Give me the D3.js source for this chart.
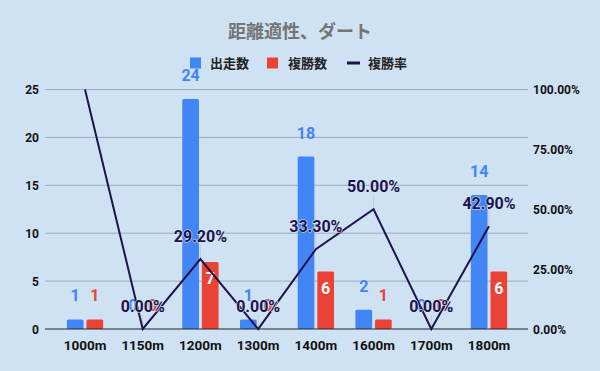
<!DOCTYPE html>
<html>
<head>
<meta charset="utf-8">
<script src="https://cdn.jsdelivr.net/npm/d3@7"></script>
<style>
  body { margin: 0; background: #cfe2f3; }
  svg { display: block; }
  text { font-family: Roboto, "Liberation Sans", "Noto Sans CJK JP", sans-serif; }
  .jp { font-family: "Noto Sans CJK JP", sans-serif; }
</style>
</head>
<body>
<svg id="svg1" width="600" height="371"></svg>
<script>
// data
var distances = ['1000m', '1150m', '1200m', '1300m', '1400m', '1600m', '1700m', '1800m'];
var runs = [1, 0, 24, 1, 18, 2, 0, 14];        // 出走数
var places = [1, 0, 7, 0, 6, 1, 0, 6];         // 複勝数
var placeRate = [1.0, 0, 0.292, 0, 0.333, 0.5, 0, 0.429];  // 複勝率
var leftTicks = [0, 5, 10, 15, 20, 25];
var rightTicks = [0, 0.25, 0.5, 0.75, 1];

var blue = '#4285f4', red = '#ea4335', navy = '#20124d';

var svg = d3.select('#svg1');

var plotLeft = 45, plotRight = 528, plotTop = 89.5, plotBottom = 329;

var x = d3.scaleBand().domain(distances).range([56.15, 517.85]).padding(0);
var bw = x.bandwidth();
var x1 = d3.scaleBand().domain(['runs', 'places'])
    .range([(bw - 36.3) / 2, (bw + 36.3) / 2]).paddingInner(0.15);

var y = d3.scaleLinear().domain([0, 25]).range([plotBottom, plotTop]);
var yR = d3.scaleLinear().domain([0, 1]).range([plotBottom, plotTop]);

// title
svg.append('text')
    .attr('class', 'jp')
    .attr('x', 300).attr('y', 38)
    .attr('text-anchor', 'middle')
    .attr('font-size', 18).attr('font-weight', 'bold')
    .attr('fill', '#757575')
    .text('距離適性、ダート');

// legend
var legend = svg.append('g');
legend.append('rect').attr('x', 190).attr('y', 57.5).attr('width', 11).attr('height', 11).attr('fill', blue);
legend.append('text').attr('class', 'jp').attr('x', 210).attr('y', 68).attr('font-size', 13).attr('font-weight', 'bold').attr('fill', '#222').text('出走数');
legend.append('rect').attr('x', 267).attr('y', 57.5).attr('width', 11).attr('height', 11).attr('fill', red);
legend.append('text').attr('class', 'jp').attr('x', 288).attr('y', 68).attr('font-size', 13).attr('font-weight', 'bold').attr('fill', '#222').text('複勝数');
legend.append('rect').attr('x', 347).attr('y', 61.5).attr('width', 13).attr('height', 3).attr('fill', navy);
legend.append('text').attr('class', 'jp').attr('x', 368).attr('y', 68).attr('font-size', 13).attr('font-weight', 'bold').attr('fill', '#222').text('複勝率');

// gridlines
svg.selectAll('line.grid')
    .data(leftTicks.filter(function(d) { return d > 0; }))
    .enter()
    .append('line')
    .attr('class', 'grid')
    .attr('x1', plotLeft).attr('x2', plotRight)
    .attr('y1', function(d) { return y(d); })
    .attr('y2', function(d) { return y(d); })
    .attr('stroke', '#9eabb8').attr('stroke-width', 1);

// left axis labels
svg.selectAll('text.ltick')
    .data(leftTicks)
    .enter()
    .append('text')
    .attr('class', 'ltick')
    .attr('x', 39)
    .attr('y', function(d) { return y(d) + 4.5; })
    .attr('text-anchor', 'end')
    .attr('font-size', 12).attr('font-weight', 'bold').attr('fill', '#111')
    .text(function(d) { return d; });

// right axis labels
svg.selectAll('text.rtick')
    .data(rightTicks)
    .enter()
    .append('text')
    .attr('class', 'rtick')
    .attr('x', 533)
    .attr('y', function(d) { return yR(d) + 4.5; })
    .attr('font-size', 12).attr('font-weight', 'bold').attr('fill', '#111')
    .text(function(d) { return d3.format('.2%')(d); });

// category labels
svg.selectAll('text.cat')
    .data(distances)
    .enter()
    .append('text')
    .attr('class', 'cat')
    .attr('x', function(d) { return x(d) + bw / 2; })
    .attr('y', 350)
    .attr('text-anchor', 'middle')
    .attr('font-size', 13.5).attr('font-weight', 'bold').attr('fill', '#111')
    .text(function(d) { return d; });

// bars
var rows = distances.map(function(d, i) {
    return { name: d, runs: runs[i], places: places[i], rate: placeRate[i] };
});

var groups = svg.selectAll('g.cat')
    .data(rows)
    .enter()
    .append('g')
    .attr('class', 'cat')
    .attr('transform', function(d) { return 'translate(' + x(d.name) + ',0)'; });

groups.append('rect')
    .attr('x', x1('runs'))
    .attr('y', function(d) { return y(d.runs); })
    .attr('width', x1.bandwidth())
    .attr('height', function(d) { return plotBottom - y(d.runs); })
    .attr('rx', 1.5)
    .attr('fill', blue);

groups.append('rect')
    .attr('x', x1('places'))
    .attr('y', function(d) { return y(d.places); })
    .attr('width', x1.bandwidth())
    .attr('height', function(d) { return plotBottom - y(d.places); })
    .attr('rx', 1.5)
    .attr('fill', red);

// count labels
groups.append('text')
    .attr('x', x1('runs') + x1.bandwidth() / 2)
    .attr('y', function(d) { return y(d.runs) - 18; })
    .attr('text-anchor', 'middle')
    .attr('font-size', 16).attr('font-weight', 'bold')
    .attr('fill', blue)
    .text(function(d) { return d.runs; });

groups.append('text')
    .attr('x', x1('places') + x1.bandwidth() / 2)
    .attr('y', function(d) {
        var h = plotBottom - y(d.places);
        return h > 25 ? y(d.places) + 22 : y(d.places) - 18;
    })
    .attr('text-anchor', 'middle')
    .attr('font-size', 16).attr('font-weight', 'bold')
    .attr('fill', function(d) { return (plotBottom - y(d.places)) > 25 ? '#fff' : red; })
    .text(function(d) { return d.places; });

// baseline
svg.append('line')
    .attr('x1', plotLeft).attr('x2', plotRight)
    .attr('y1', plotBottom).attr('y2', plotBottom)
    .attr('stroke', '#222').attr('stroke-width', 1.2);

// leader lines for percent labels
var shown = rows.filter(function(d) { return yR(d.rate) - 23 > 72; });

svg.selectAll('line.lead')
    .data(shown)
    .enter()
    .append('line')
    .attr('class', 'lead')
    .attr('x1', function(d) { return x(d.name) + bw / 2; })
    .attr('x2', function(d) { return x(d.name) + bw / 2; })
    .attr('y1', function(d) { return yR(d.rate) - 14; })
    .attr('y2', function(d) { return yR(d.rate); })
    .attr('stroke', '#c3ccd6').attr('stroke-width', 1);

// rate line
var line = d3.line()
    .x(function(d) { return x(d.name) + bw / 2; })
    .y(function(d) { return yR(d.rate); });

svg.append('path')
    .datum(rows)
    .attr('d', line)
    .attr('fill', 'none')
    .attr('stroke', navy)
    .attr('stroke-width', 2);

// percent labels
svg.selectAll('text.pct')
    .data(shown)
    .enter()
    .append('text')
    .attr('class', 'pct')
    .attr('x', function(d) { return x(d.name) + bw / 2; })
    .attr('y', function(d) { return yR(d.rate) - 17; })
    .attr('text-anchor', 'middle')
    .attr('font-size', 16).attr('font-weight', 'bold')
    .attr('fill', navy)
    .attr('stroke', '#d6e6f5').attr('stroke-width', 1.2)
    .attr('paint-order', 'stroke')
    .text(function(d) { return d3.format('.2%')(d.rate); });
</script>
</body>
</html>
